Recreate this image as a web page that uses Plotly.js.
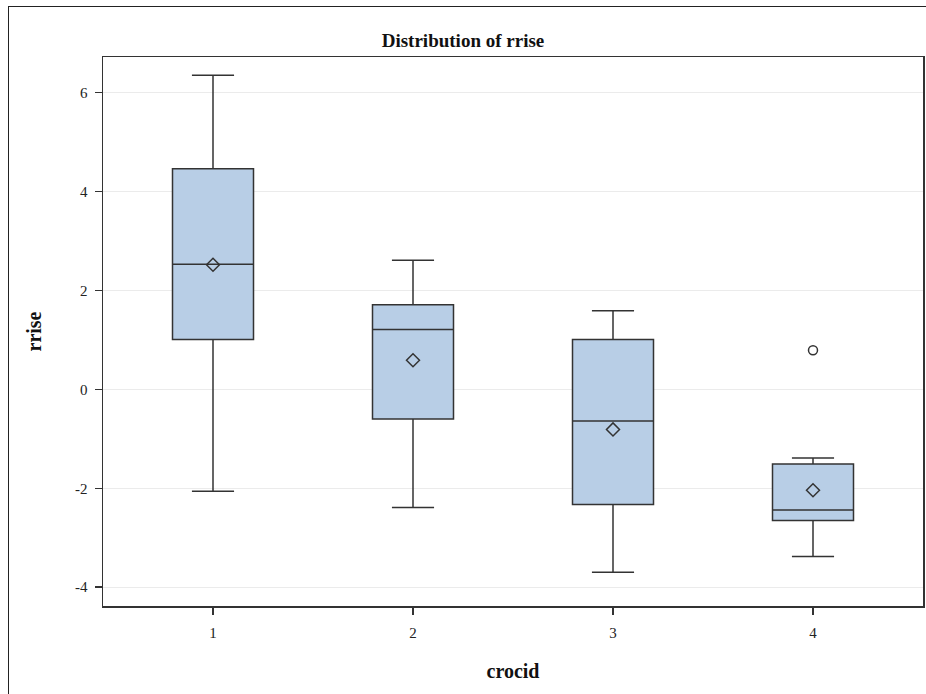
<!DOCTYPE html>
<html>
<head>
<meta charset="utf-8">
<script src="https://cdn.plot.ly/plotly-3.0.1.min.js"></script>
<style>
  html, body { margin: 0; padding: 0; background: #fff; }
  #chart { width: 926px; height: 694px; position: absolute; left: 0; top: 0; }
  #frame { position: absolute; left: 8px; top: 6px; width: 940px; height: 720px;
           border: 1.5px solid #222; pointer-events: none; }
</style>
</head>
<body>
<div id="chart"></div>
<div id="frame"></div>
<script>
// Data
const categories = [1, 2, 3, 4];
const lowerfence = [-2.06, -2.39, -3.70, -3.38];
const q1 = [1.01, -0.60, -2.33, -2.65];
const median = [2.53, 1.21, -0.64, -2.44];
const q3 = [4.46, 1.71, 1.01, -1.51];
const upperfence = [6.35, 2.61, 1.59, -1.39];
const means = [2.52, 0.59, -0.81, -2.04];
const outlierX = [4];
const outlierY = [0.79];
const yTicks = [-4, -2, 0, 2, 4, 6];
const yTickText = ['-4', '-2', '0', '2', '4', '6'];

const lineCol = '#333333';
const fontFam = '"Liberation Serif", "Times New Roman", serif';

const traces = [
  {
    type: 'box',
    x: categories,
    q1: q1, median: median, q3: q3,
    lowerfence: lowerfence, upperfence: upperfence,
    boxpoints: false,
    width: 0.405,
    whiskerwidth: 0.52,
    fillcolor: 'rgb(184,206,230)',
    line: { color: lineCol, width: 1.5 },
    hoverinfo: 'skip',
    showlegend: false
  },
  {
    type: 'scatter', mode: 'markers',
    x: categories, y: means,
    marker: { symbol: 'diamond-open', size: 10, color: lineCol, line: { color: lineCol, width: 1.5 } },
    showlegend: false, hoverinfo: 'skip'
  },
  {
    type: 'scatter', mode: 'markers',
    x: outlierX, y: outlierY,
    marker: { symbol: 'circle-open', size: 9, color: lineCol, line: { color: lineCol, width: 1.5 } },
    showlegend: false, hoverinfo: 'skip'
  }
];

const layout = {
  width: 926, height: 694,
  margin: { l: 103, r: 3, t: 57, b: 88 },
  paper_bgcolor: '#ffffff', plot_bgcolor: '#ffffff',
  font: { family: fontFam, color: '#222', size: 15 },
  title: {
    text: '<b>Distribution of rrise</b>',
    font: { family: fontFam, size: 19, color: '#111' },
    x: 0.5, xref: 'container', xanchor: 'center',
    y: 1 - 40 / 694, yref: 'container', yanchor: 'middle'
  },
  xaxis: {
    range: [0.45, 4.55],
    tickvals: categories,
    ticktext: categories.map(String),
    ticks: 'outside', ticklen: 7, tickcolor: lineCol, tickwidth: 1.5,
    ticklabelstandoff: 5,
    showline: true, linecolor: lineCol, linewidth: 1.5, mirror: true,
    showgrid: false, zeroline: false,
    tickfont: { family: fontFam, size: 15, color: '#222' },
    title: { text: '<b>crocid</b>', font: { family: fontFam, size: 20, color: '#111' }, standoff: 24 }
  },
  yaxis: {
    range: [-4.38, 6.72],
    tickvals: yTicks,
    ticktext: yTickText,
    ticks: 'outside', ticklen: 7, tickcolor: lineCol, tickwidth: 1.5,
    ticklabelstandoff: 4,
    showline: true, linecolor: lineCol, linewidth: 1.5, mirror: true,
    showgrid: true, gridcolor: '#ebebeb', gridwidth: 1, zeroline: false,
    tickfont: { family: fontFam, size: 15, color: '#222' },
    title: { text: '<b>rrise</b>', font: { family: fontFam, size: 20, color: '#111' }, standoff: 28 }
  }
};

Plotly.newPlot('chart', traces, layout, { displayModeBar: false, staticPlot: true });
</script>
</body>
</html>
